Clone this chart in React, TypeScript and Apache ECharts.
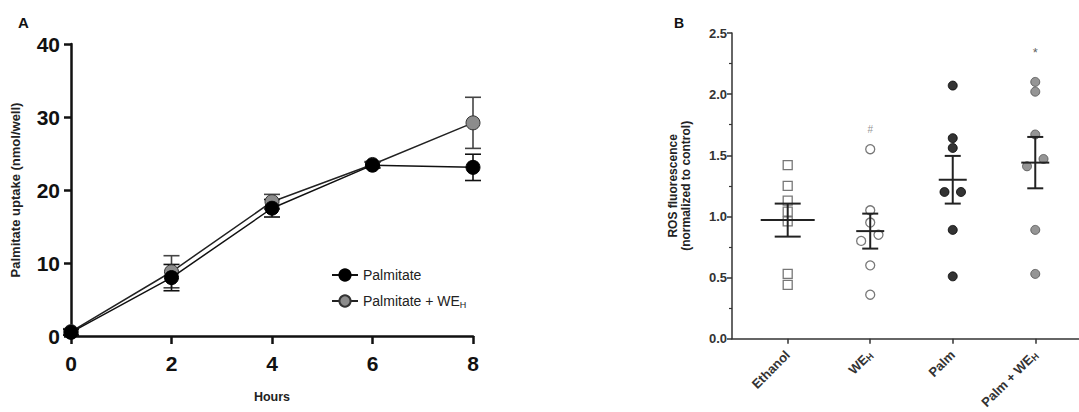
import React, { useEffect, useRef } from "react";
import * as echarts from "echarts";

// ---------- Panel A data ----------
const hours = [0, 2, 4, 6, 8];
const hourTicks = [0, 2, 4, 6, 8];
const palmMean = [0.5, 8.0, 17.5, 23.4, 23.1];
const palmSem = [0.4, 1.8, 1.2, 0.4, 1.8];
const palmWeMean = [0.6, 8.8, 18.4, 23.5, 29.2];
const palmWeSem = [0.4, 2.2, 1.0, 0.4, 3.5];
const seriesNamesA = ["Palmitate", "Palmitate + WE_H"];

// ---------- Panel B data ----------
const rosCategories = ["Ethanol", "WE_H", "Palm", "Palm + WE_H"];
const ethanolVals = [1.42, 1.25, 1.13, 1.04, 0.96, 0.53, 0.44];
const ethanolJitter = [0, 0, 0, 0, 0, 0, 0];
const weVals = [1.55, 1.05, 0.95, 0.85, 0.8, 0.6, 0.36];
const weJitter = [0, 0, 0, 0.1, -0.11, 0, 0];
const palmVals = [2.07, 1.64, 1.56, 1.2, 1.2, 0.89, 0.51];
const palmJitter = [0, 0, 0, -0.1, 0.1, 0, 0];
const palmWeVals = [2.1, 2.02, 1.67, 1.47, 1.41, 0.89, 0.53];
const palmWeJitter = [0, 0, 0, 0.1, -0.1, 0, 0];
const rosMean = [0.97, 0.88, 1.3, 1.44];
const rosSem = [0.135, 0.143, 0.195, 0.21];
const rosAnnot = [
  { x: 1, y: 1.71, text: "#" },
  { x: 3, y: 2.34, text: "*" },
];

const FONT = "Liberation Sans, Arial, Helvetica, sans-serif";

function richName(name: string): string {
  if (name.endsWith("WE_H")) {
    return "{n|" + name.slice(0, -2) + "}{s|H}";
  }
  return "{n|" + name + "}";
}

export default function App() {
  const ref = useRef<HTMLDivElement>(null);

  useEffect(() => {
    if (!ref.current) return;
    const chart = echarts.init(ref.current, undefined, { renderer: "svg" });

    const pts = (vals: number[], jit: number[], c: number) =>
      vals.map((v, i) => [c + jit[i], v]);

    const errA = (mean: number[], sem: number[], color: string) => ({
      type: "custom",
      xAxisIndex: 0,
      yAxisIndex: 0,
      clip: false,
      z: 1,
      data: hours.map((h, i) => [h, mean[i] - sem[i], mean[i] + sem[i]]),
      renderItem: (params: any, api: any) => {
        const x = api.value(0);
        const lo = api.coord([x, api.value(1)]);
        const hi = api.coord([x, api.value(2)]);
        const cw = 8;
        const st = { stroke: color, lineWidth: 1.6 };
        return {
          type: "group",
          children: [
            { type: "line", shape: { x1: lo[0], y1: lo[1], x2: hi[0], y2: hi[1] }, style: st },
            { type: "line", shape: { x1: lo[0] - cw, y1: lo[1], x2: lo[0] + cw, y2: lo[1] }, style: st },
            { type: "line", shape: { x1: hi[0] - cw, y1: hi[1], x2: hi[0] + cw, y2: hi[1] }, style: st },
          ],
        };
      },
    });

    const option: any = {
      animation: false,
      backgroundColor: "#ffffff",
      textStyle: { fontFamily: FONT },
      title: [
        { text: "A", left: 13, top: 10, textStyle: { fontSize: 15, fontWeight: "bold", color: "#111", fontFamily: FONT } },
        { text: "B", left: 669, top: 11, textStyle: { fontSize: 14, fontWeight: "bold", color: "#111", fontFamily: FONT } },
      ],
      legend: {
        orient: "vertical",
        left: 326,
        top: 263,
        itemGap: 12,
        itemWidth: 26,
        itemHeight: 14,
        data: seriesNamesA,
        formatter: (name: string) => richName(name),
        textStyle: {
          color: "#222",
          rich: {
            n: { fontSize: 14, fontFamily: FONT, color: "#222" },
            s: { fontSize: 9, fontFamily: FONT, color: "#222", verticalAlign: "bottom", padding: [7, 0, 0, 0] },
          },
        },
      },
      grid: [
        { left: 71, top: 44, width: 402, height: 292 },
        { left: 732, top: 33, width: 347, height: 306 },
      ],
      xAxis: [
        {
          gridIndex: 0,
          type: "value",
          min: 0,
          max: 8,
          interval: 2,
          name: "Hours",
          nameLocation: "middle",
          nameGap: 54,
          nameTextStyle: { fontSize: 12.5, fontWeight: "bold", color: "#222", fontFamily: FONT },
          axisLine: { show: true, onZero: false, lineStyle: { color: "#111", width: 2.5 } },
          axisTick: { show: true, length: 8, lineStyle: { color: "#111", width: 2.5 }, customValues: hourTicks },
          axisLabel: { fontSize: 21, fontWeight: "bold", color: "#111", margin: 17, fontFamily: FONT, customValues: hourTicks },
          splitLine: { show: false },
        },
        {
          gridIndex: 1,
          type: "value",
          min: -0.675,
          max: 3.53,
          axisLine: { show: true, onZero: false, lineStyle: { color: "#333", width: 1.5 } },
          axisTick: { show: true, length: 5, lineStyle: { color: "#333", width: 1.5 }, customValues: [0, 1, 2, 3] },
          axisLabel: {
            customValues: [0, 1, 2, 3],
            rotate: 45,
            margin: 14,
            formatter: (v: number) => richName(rosCategories[Math.round(v)] || ""),
            rich: {
              n: { fontSize: 13, fontWeight: "bold", color: "#333", fontFamily: FONT },
              s: { fontSize: 9, fontWeight: "bold", color: "#333", fontFamily: FONT, verticalAlign: "bottom", padding: [6, 0, 0, 0] },
            },
          },
          splitLine: { show: false },
        },
      ],
      yAxis: [
        {
          gridIndex: 0,
          type: "value",
          min: 0,
          max: 40,
          interval: 10,
          name: "Palmitate uptake (nmol/well)",
          nameLocation: "middle",
          nameGap: 49,
          nameTextStyle: { fontSize: 13, fontWeight: "bold", color: "#222", fontFamily: FONT },
          axisLine: { show: true, onZero: false, lineStyle: { color: "#111", width: 2.5 } },
          axisTick: { show: true, length: 7, lineStyle: { color: "#111", width: 2.5 } },
          axisLabel: { fontSize: 21, fontWeight: "bold", color: "#111", margin: 11, fontFamily: FONT },
          splitLine: { show: false },
        },
        {
          gridIndex: 1,
          type: "value",
          min: 0,
          max: 2.5,
          interval: 0.5,
          name: "ROS fluorescence\n(normalized to control)",
          nameLocation: "middle",
          nameGap: 40,
          nameTextStyle: { fontSize: 12, fontWeight: "bold", color: "#222", fontFamily: FONT, lineHeight: 13 },
          axisLine: { show: true, onZero: false, lineStyle: { color: "#333", width: 1.5 } },
          axisTick: { show: true, length: 5, lineStyle: { color: "#333", width: 1.5 } },
          minorTick: { show: true, splitNumber: 2, length: 3, lineStyle: { color: "#333", width: 1.2 } },
          axisLabel: {
            fontSize: 13,
            fontWeight: "bold",
            color: "#333",
            margin: 5,
            fontFamily: FONT,
            formatter: (v: number) => v.toFixed(1),
          },
          splitLine: { show: false },
        },
      ],
      series: [
        errA(palmWeMean, palmWeSem, "#444"),
        errA(palmMean, palmSem, "#111"),
        {
          name: seriesNamesA[1],
          type: "line",
          xAxisIndex: 0,
          yAxisIndex: 0,
          data: hours.map((h, i) => [h, palmWeMean[i]]),
          symbol: "circle",
          symbolSize: 14,
          lineStyle: { color: "#222", width: 1.5 },
          itemStyle: { color: "#8c8c8c", borderColor: "#333", borderWidth: 1 },
          z: 3,
        },
        {
          name: seriesNamesA[0],
          type: "line",
          xAxisIndex: 0,
          yAxisIndex: 0,
          data: hours.map((h, i) => [h, palmMean[i]]),
          symbol: "circle",
          symbolSize: 14,
          lineStyle: { color: "#111", width: 1.5 },
          itemStyle: { color: "#000", borderColor: "#000", borderWidth: 1 },
          z: 4,
        },
        {
          type: "scatter",
          xAxisIndex: 1,
          yAxisIndex: 1,
          data: pts(ethanolVals, ethanolJitter, 0),
          symbol: "rect",
          symbolSize: 9,
          itemStyle: { color: "#fff", borderColor: "#555", borderWidth: 1.3 },
        },
        {
          type: "scatter",
          xAxisIndex: 1,
          yAxisIndex: 1,
          data: pts(weVals, weJitter, 1),
          symbol: "circle",
          symbolSize: 9,
          itemStyle: { color: "#fff", borderColor: "#555", borderWidth: 1.3 },
        },
        {
          type: "scatter",
          xAxisIndex: 1,
          yAxisIndex: 1,
          data: pts(palmVals, palmJitter, 2),
          symbol: "circle",
          symbolSize: 9,
          itemStyle: { color: "#000", borderColor: "#000", borderWidth: 1 },
        },
        {
          type: "scatter",
          xAxisIndex: 1,
          yAxisIndex: 1,
          data: pts(palmWeVals, palmWeJitter, 3),
          symbol: "circle",
          symbolSize: 9,
          itemStyle: { color: "#7a7a7a", borderColor: "#505050", borderWidth: 1 },
        },
        {
          type: "custom",
          xAxisIndex: 1,
          yAxisIndex: 1,
          clip: false,
          z: 5,
          data: rosMean.map((m, i) => [i, m, rosSem[i]]),
          renderItem: (params: any, api: any) => {
            const x = api.value(0);
            const m = api.value(1);
            const s = api.value(2);
            const c = api.coord([x, m]);
            const hi = api.coord([x, m + s]);
            const lo = api.coord([x, m - s]);
            const idx = params.dataIndex;
            const hm = idx === 0 ? 27 : 14;
            const hc = idx === 0 ? 13 : 8;
            const st = { stroke: "#222", lineWidth: 2 };
            return {
              type: "group",
              children: [
                { type: "line", shape: { x1: c[0] - hm, y1: c[1], x2: c[0] + hm, y2: c[1] }, style: st },
                { type: "line", shape: { x1: hi[0], y1: hi[1], x2: lo[0], y2: lo[1] }, style: st },
                { type: "line", shape: { x1: hi[0] - hc, y1: hi[1], x2: hi[0] + hc, y2: hi[1] }, style: st },
                { type: "line", shape: { x1: lo[0] - hc, y1: lo[1], x2: lo[0] + hc, y2: lo[1] }, style: st },
              ],
            };
          },
        },
        {
          type: "scatter",
          xAxisIndex: 1,
          yAxisIndex: 1,
          symbolSize: 0,
          data: rosAnnot.map((a) => ({
            value: [a.x, a.y],
            label: {
              show: true,
              formatter: a.text,
              position: "inside",
              color: a.text === "*" ? "#333" : "#777",
              fontSize: a.text === "*" ? 13 : 10,
              fontFamily: FONT,
            },
          })),
        },
      ],
    };

    chart.setOption(option);
    return () => chart.dispose();
  }, []);

  return (
    <div
      ref={ref}
      style={{ position: "absolute", left: 0, top: 0, width: 1079, height: 412, background: "#fff" }}
    />
  );
}
